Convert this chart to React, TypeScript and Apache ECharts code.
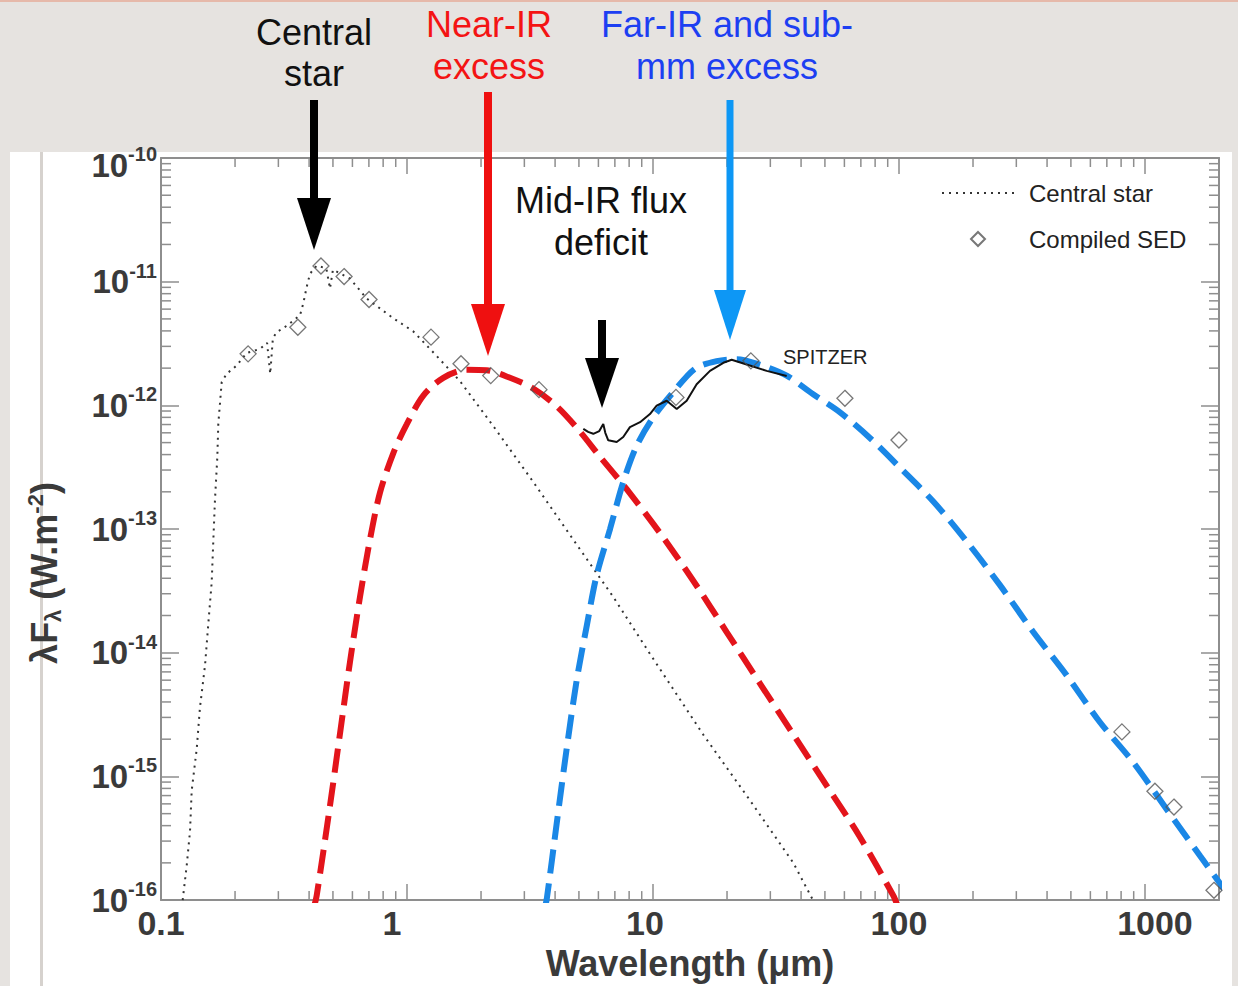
import React, { useEffect, useRef } from 'react';
import * as echarts from 'echarts';

// ---- Data ----
const starWave = [0.1225, 0.1272, 0.1312, 0.1333, 0.1397, 0.144, 0.151, 0.1557, 0.1607, 0.1632, 0.1658, 0.1694, 0.171, 0.1737, 0.1765, 0.1849, 0.2031, 0.2231, 0.2526, 0.27, 0.278, 0.285, 0.2953, 0.3243, 0.3673, 0.379, 0.3912, 0.4034, 0.4295, 0.47, 0.4864, 0.5, 0.5866, 0.6859, 0.88, 1.061, 1.32, 1.642, 2.243, 3.262, 4.742, 6.9, 9.72, 16.0, 24.8, 37.2, 44.7, 47.0];
const starFlux = [1.0e-16, 1.9e-16, 3.6e-16, 7.7e-16, 1.67e-15, 3.6e-15, 7.9e-15, 1.71e-14, 3.7e-14, 8.1e-14, 1.75e-13, 3.8e-13, 7.1e-13, 1.04e-12, 1.54e-12, 1.8e-12, 2.1e-12, 2.65e-12, 2.86e-12, 3.2e-12, 1.8e-12, 3.5e-12, 3.9e-12, 4.4e-12, 5.35e-12, 6.7e-12, 9.1e-12, 1.16e-11, 1.35e-11, 1.28e-11, 8.8e-12, 1.25e-11, 1.06e-11, 7.3e-12, 5.06e-12, 3.96e-12, 2.51e-12, 1.57e-12, 6.8e-13, 2.4e-13, 8.2e-14, 2.82e-14, 9.8e-15, 2.18e-15, 6.4e-16, 2.0e-16, 1.0e-16, 7.0e-17];

const sedWave = [0.226, 0.36, 0.447, 0.555, 0.701, 1.252, 1.658, 2.19, 3.44, 12.4, 25.0, 60.3, 100, 806, 1098, 1312, 1908];
const sedFlux = [2.61e-12, 4.28e-12, 1.34e-11, 1.1e-11, 7.18e-12, 3.56e-12, 2.17e-12, 1.74e-12, 1.34e-12, 1.16e-12, 2.29e-12, 1.14e-12, 5.25e-13, 2.29e-15, 7.59e-16, 5.65e-16, 1.2e-16];

const spitzerWave = [5.21, 5.45, 5.72, 6.05, 6.28, 6.4, 6.58, 7.12, 7.57, 8.06, 8.86, 9.72, 10.35, 11.37, 12.49, 13.71, 15.05, 17.05, 19.32, 20.89, 24.04, 29.0, 34.96];
const spitzerFlux = [6.46e-13, 6.1e-13, 5.89e-13, 6.2e-13, 7.08e-13, 6.0e-13, 5.22e-13, 5.06e-13, 5.55e-13, 6.67e-13, 7.31e-13, 8.51e-13, 9.95e-13, 1.09e-12, 9.33e-13, 1.09e-12, 1.48e-12, 1.9e-12, 2.21e-12, 2.34e-12, 2.14e-12, 1.9e-12, 1.73e-12];

const nearIrWave = [0.4188, 0.4295, 0.4864, 0.534, 0.5866, 0.644, 0.7071, 0.7766, 0.88, 0.997, 1.165, 1.405, 1.748, 2.109, 2.623, 3.262, 4.06, 5.05, 6.09, 7.82, 10.68, 14.58, 19.93, 27.2, 37.2, 50.8, 69.4, 94.8, 98.1];
const nearIrFlux = [8.8e-17, 1.09e-16, 5.8e-16, 2.21e-15, 8.44e-15, 2.82e-14, 8.22e-14, 1.97e-13, 4.11e-13, 7.02e-13, 1.2e-12, 1.67e-12, 1.94e-12, 1.92e-12, 1.67e-12, 1.37e-12, 9.82e-13, 6.14e-13, 3.84e-13, 2.1e-13, 9.29e-14, 3.82e-14, 1.47e-14, 5.66e-15, 2.18e-15, 8.41e-16, 3.24e-16, 1.09e-16, 9.3e-17];

const farIrWave = [3.64, 3.7, 4.06, 4.44, 4.9, 5.38, 5.9, 6.69, 7.57, 8.58, 10.03, 12.09, 14.82, 18.15, 21.89, 27.2, 34.96, 44.8, 57.6, 76.2, 100.9, 137.9, 188.5, 257.4, 351.6, 480.6, 656.4, 896.3, 1225, 1674, 2148];
const farIrFlux = [8.8e-17, 1.02e-16, 4.15e-16, 1.58e-15, 6.05e-15, 1.65e-14, 4.22e-14, 1.0e-13, 2.4e-13, 4.7e-13, 8.02e-13, 1.28e-12, 1.98e-12, 2.28e-12, 2.36e-12, 2.13e-12, 1.74e-12, 1.23e-12, 8.79e-13, 5.45e-13, 3.14e-13, 1.67e-13, 7.93e-14, 3.52e-14, 1.47e-14, 6.56e-15, 2.74e-15, 1.3e-15, 5.43e-16, 2.28e-16, 1.15e-16];

const xMin = 0.1;
const xMax = 2000;
const yMin = 1e-16;
const yMax = 1e-10;
const xDecades = [0.1, 1, 10, 100, 1000];
const yDecades = [1e-16, 1e-15, 1e-14, 1e-13, 1e-12, 1e-11];
const minorMultipliers = [2, 3, 4, 5, 6, 7, 8, 9];
const xTickLabels: Record<string, string> = { '-1': '0.1', '0': '1', '1': '10', '2': '100', '3': '1000' };

const zip = (a: number[], b: number[]) => a.map((v, i) => [v, b[i]]);

const FONT = 'Liberation Sans';
const AXIS_GRAY = '#8e8e8e';
const LABEL_COLOR = '#3a3a3a';
const DIAMOND_ICON = 'path://M0,-10L10,0L0,10L-10,0Z';

function buildOption() {
  const xMinor: number[][] = [];
  xDecades.forEach((d) => minorMultipliers.forEach((m) => { const v = d * m; if (v < xMax) xMinor.push([v, yMin]); }));
  const yMinor: number[][] = [];
  yDecades.forEach((d) => minorMultipliers.forEach((m) => yMinor.push([xMin, d * m])));

  const lab = { fontSize: 34, fontWeight: 'bold', fontFamily: FONT, color: LABEL_COLOR };

  const minorTick = (axis: 'x' | 'y') => (params: any, api: any) => {
    const cs = params.coordSys;
    const p = api.coord([api.value(0), api.value(1)]);
    const st = { stroke: AXIS_GRAY, lineWidth: 1.5 };
    if (axis === 'x') {
      const x = p[0];
      return {
        type: 'group',
        children: [
          { type: 'line', shape: { x1: x, y1: cs.y + cs.height, x2: x, y2: cs.y + cs.height - 9 }, style: st },
          { type: 'line', shape: { x1: x, y1: cs.y, x2: x, y2: cs.y + 9 }, style: st },
        ],
      };
    }
    const y = p[1];
    return {
      type: 'group',
      children: [
        { type: 'line', shape: { x1: cs.x, y1: y, x2: cs.x + 10, y2: y }, style: st },
        { type: 'line', shape: { x1: cs.x + cs.width, y1: y, x2: cs.x + cs.width - 10, y2: y }, style: st },
      ],
    };
  };

  const arrow = (x: number, top: number, headTop: number, tip: number, color: string, shaft = 8, headW = 34) => [
    { type: 'rect', shape: { x: x - shaft / 2, y: top, width: shaft, height: headTop - top + 2 }, style: { fill: color }, z: 20 },
    { type: 'polygon', shape: { points: [[x - headW / 2, headTop], [x + headW / 2, headTop], [x, tip]] }, style: { fill: color }, z: 20 },
  ];

  const annText = (text: string, x: number, y: number, color: string) => ({
    type: 'text',
    x,
    y,
    z: 20,
    style: { text, fill: color, font: `36px "${FONT}"`, align: 'center', verticalAlign: 'middle' },
  });

  return {
    animation: false,
    backgroundColor: '#e6e3e0',
    grid: { left: 161, right: 19, top: 158, bottom: 78, containLabel: false },
    legend: {
      orient: 'vertical',
      left: 936,
      top: 176,
      itemWidth: 72,
      itemHeight: 14,
      itemGap: 22,
      selectedMode: false,
      symbolKeepAspect: true,
      textStyle: { fontFamily: FONT, fontSize: 24, color: '#222', padding: [0, 0, 0, 10] },
      data: [
        { name: 'Central star', itemStyle: { opacity: 0 } },
        { name: 'Compiled SED', icon: DIAMOND_ICON },
      ],
    },
    xAxis: [
      {
        type: 'log',
        logBase: 10,
        min: xMin,
        max: xMax,
        splitNumber: 5,
        position: 'bottom',
        name: 'Wavelength (μm)',
        nameLocation: 'middle',
        nameGap: 38,
        nameTextStyle: { fontFamily: FONT, fontSize: 36, fontWeight: 'bold', color: LABEL_COLOR },
        axisLine: { show: true, lineStyle: { color: AXIS_GRAY, width: 2 } },
        axisTick: { show: true, inside: true, length: 16, lineStyle: { color: AXIS_GRAY, width: 1.5 } },
        splitLine: { show: false },
        axisLabel: {
          margin: 6,
          showMaxLabel: false,
          formatter: (v: number) => {
            const e = String(Math.round(Math.log10(v)));
            const t = xTickLabels[e];
            return t ? `{p${e.replace('-', 'm')}|${t}}` : '';
          },
          rich: {
            pm1: { ...lab },
            p0: { ...lab, padding: [0, 30, 0, 0] },
            p1: { ...lab, padding: [0, 16, 0, 0] },
            p2: { ...lab },
            p3: { ...lab, padding: [0, 0, 0, 20] },
          },
        },
      },
      {
        type: 'log',
        logBase: 10,
        min: xMin,
        max: xMax,
        splitNumber: 5,
        position: 'top',
        axisLine: { show: true, lineStyle: { color: AXIS_GRAY, width: 2 } },
        axisTick: { show: true, inside: true, length: 16, lineStyle: { color: AXIS_GRAY, width: 1.5 } },
        axisLabel: { show: false },
        splitLine: { show: false },
      },
    ],
    yAxis: [
      {
        type: 'log',
        logBase: 10,
        min: yMin,
        max: yMax,
        splitNumber: 6,
        position: 'left',
        axisLine: { show: true, lineStyle: { color: AXIS_GRAY, width: 2 } },
        axisTick: { show: true, inside: true, length: 18, lineStyle: { color: AXIS_GRAY, width: 1.5 } },
        splitLine: { show: false },
        axisLabel: {
          margin: 4,
          formatter: (v: number) => {
            const e = Math.round(Math.log10(v));
            return e === -10 ? `{bt|10}{st|${e}}` : `{b|10}{s|${e}}`;
          },
          rich: {
            b: { fontSize: 33, fontWeight: 'bold', fontFamily: FONT, color: LABEL_COLOR },
            s: { fontSize: 20, fontWeight: 'bold', fontFamily: FONT, color: LABEL_COLOR, padding: [0, 0, 22, 0] },
            bt: { fontSize: 33, fontWeight: 'bold', fontFamily: FONT, color: LABEL_COLOR, padding: [14, 0, 0, 0] },
            st: { fontSize: 20, fontWeight: 'bold', fontFamily: FONT, color: LABEL_COLOR, padding: [0, 0, 8, 0] },
          },
        },
      },
      {
        type: 'log',
        logBase: 10,
        min: yMin,
        max: yMax,
        splitNumber: 6,
        position: 'right',
        axisLine: { show: true, lineStyle: { color: AXIS_GRAY, width: 2 } },
        axisTick: { show: true, inside: true, length: 18, lineStyle: { color: AXIS_GRAY, width: 1.5 } },
        axisLabel: { show: false },
        splitLine: { show: false },
      },
    ],
    series: [
      {
        type: 'custom',
        name: 'xminor',
        silent: true,
        data: xMinor,
        renderItem: minorTick('x'),
        z: 1,
      },
      {
        type: 'custom',
        name: 'yminor',
        silent: true,
        data: yMinor,
        renderItem: minorTick('y'),
        z: 1,
      },
      {
        name: 'Central star',
        type: 'line',
        data: zip(starWave, starFlux),
        symbol: 'none',
        silent: true,
        lineStyle: { color: '#333', width: 2, type: [2, 5] },
        itemStyle: { color: '#333' },
        z: 3,
      },
      {
        name: 'Mid-IR spectrum',
        type: 'line',
        data: zip(spitzerWave, spitzerFlux),
        symbol: 'none',
        silent: true,
        lineStyle: { color: '#111', width: 2 },
        z: 5,
      },
      {
        name: 'Near-IR excess',
        type: 'line',
        data: zip(nearIrWave, nearIrFlux),
        symbol: 'none',
        smooth: 0.3,
        silent: true,
        lineStyle: { color: '#e3141b', width: 6, type: [24, 10] },
        z: 4,
      },
      {
        name: 'Far-IR excess',
        type: 'line',
        data: zip(farIrWave, farIrFlux),
        symbol: 'none',
        smooth: 0.3,
        silent: true,
        lineStyle: { color: '#1a87e6', width: 6, type: [24, 10] },
        z: 4,
      },
      {
        name: 'Compiled SED',
        type: 'scatter',
        data: zip(sedWave, sedFlux),
        symbol: 'diamond',
        symbolSize: 16,
        silent: true,
        itemStyle: { color: 'rgba(255,255,255,0)', borderColor: '#555', borderWidth: 1.3 },
        z: 6,
      },
    ],
    graphic: [
      { type: 'rect', shape: { x: 0, y: 0, width: 1238, height: 2 }, style: { fill: '#e6b9aa' }, z: -2 },
      { type: 'rect', shape: { x: 10, y: 152, width: 1222, height: 834 }, style: { fill: '#ffffff' }, z: -2 },
      { type: 'rect', shape: { x: 40, y: 152, width: 3, height: 834 }, style: { fill: '#d6d2ce' }, z: -1 },
      annText('Central', 314, 32, '#111'),
      annText('star', 314, 73, '#111'),
      annText('Near-IR', 489, 24, '#f41414'),
      annText('excess', 489, 66, '#f41414'),
      annText('Far-IR and sub-', 727, 24, '#1d3ff2'),
      annText('mm excess', 727, 66, '#1d3ff2'),
      annText('Mid-IR flux', 601, 200, '#111'),
      annText('deficit', 601, 242, '#111'),
      ...arrow(314, 100, 198, 250, '#000'),
      ...arrow(488, 92, 304, 356, '#ef1010'),
      ...arrow(730, 100, 290, 340, '#0d97f5', 7, 32),
      ...arrow(602, 320, 358, 408, '#000'),
      {
        type: 'text',
        x: 783,
        y: 357,
        z: 20,
        style: { text: 'SPITZER', fill: '#222', font: `20px "${FONT}"`, align: 'left', verticalAlign: 'middle' },
      },
      {
        type: 'text',
        x: 44,
        y: 573,
        rotation: Math.PI / 2,
        z: 20,
        style: {
          text: '{a|λF}{sub|λ}{a| (W.m}{sup|-2}{a|)}',
          align: 'center',
          verticalAlign: 'middle',
          rich: {
            a: { fontSize: 36, fontWeight: 'bold', fontFamily: FONT, fill: LABEL_COLOR, color: LABEL_COLOR },
            sub: { fontSize: 22, fontWeight: 'bold', fontFamily: FONT, fill: LABEL_COLOR, color: LABEL_COLOR, padding: [18, 0, 0, 0] },
            sup: { fontSize: 22, fontWeight: 'bold', fontFamily: FONT, fill: LABEL_COLOR, color: LABEL_COLOR, padding: [0, 0, 18, 0] },
          },
        },
      },
    ],
  };
}

export default function App() {
  const ref = useRef<HTMLDivElement>(null);
  useEffect(() => {
    if (!ref.current) return;
    const chart = echarts.init(ref.current, null, { renderer: 'svg' });
    chart.setOption(buildOption() as any);
    return () => chart.dispose();
  }, []);
  return <div ref={ref} style={{ position: 'absolute', left: 0, top: 0, width: 1238, height: 986 }} />;
}
